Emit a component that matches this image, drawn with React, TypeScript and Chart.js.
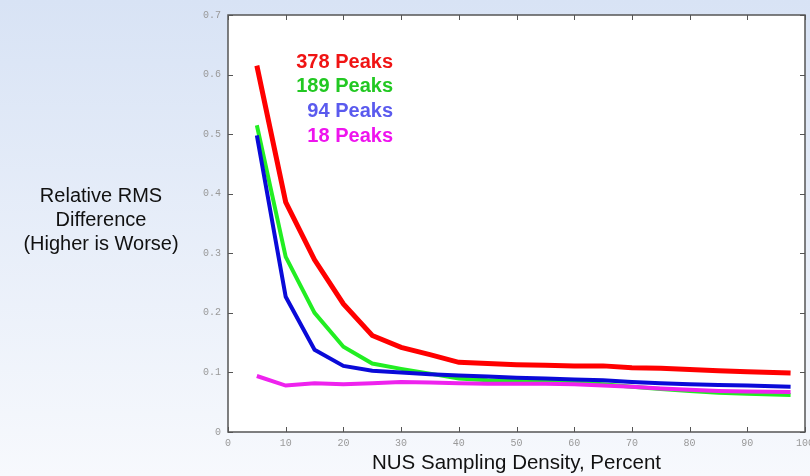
import React, { useEffect, useRef } from "react";
import { Chart, registerables } from "chart.js";

Chart.register(...registerables);

const xValues = [5, 10, 15, 20, 25, 30, 35, 40, 45, 50, 55, 60, 65, 70, 75, 80, 85, 90, 97.5];
const peaks378 = [0.615, 0.386, 0.289, 0.215, 0.162, 0.142, 0.13, 0.117, 0.115, 0.113, 0.112, 0.111, 0.111, 0.108, 0.107, 0.105, 0.103, 0.101, 0.099];
const peaks189 = [0.515, 0.294, 0.2, 0.143, 0.115, 0.106, 0.098, 0.09, 0.087, 0.086, 0.086, 0.083, 0.08, 0.076, 0.072, 0.069, 0.066, 0.064, 0.062];
const peaks94 = [0.498, 0.227, 0.138, 0.111, 0.103, 0.1, 0.097, 0.095, 0.093, 0.091, 0.09, 0.088, 0.087, 0.084, 0.082, 0.08, 0.079, 0.078, 0.076];
const peaks18 = [0.094, 0.078, 0.082, 0.08, 0.082, 0.084, 0.083, 0.082, 0.081, 0.081, 0.081, 0.08, 0.078, 0.076, 0.073, 0.071, 0.069, 0.068, 0.067];

const legendLabels = ["378 Peaks", "189 Peaks", "94 Peaks", "18 Peaks"];
const legendColors = ["#f01414", "#22c822", "#5a5aee", "#ee14ee"];
const yTitleLines = ["Relative RMS", "Difference", "(Higher is Worse)"];
const xTitle = "NUS Sampling Density, Percent";

const toPoints = (ys: number[]) => ys.map((y, i) => ({ x: xValues[i], y }));

const decorPlugin = {
  id: "decor",
  beforeDraw(chart: any) {
    const { ctx, width, height, chartArea } = chart;
    ctx.save();
    const g = ctx.createLinearGradient(0, 0, 0, height);
    g.addColorStop(0, "#d8e3f5");
    g.addColorStop(1, "#f7f9fd");
    ctx.fillStyle = g;
    ctx.fillRect(0, 0, width, height);
    ctx.fillStyle = "#ffffff";
    ctx.fillRect(chartArea.left, chartArea.top, chartArea.right - chartArea.left, chartArea.bottom - chartArea.top);
    ctx.restore();
  },
  beforeDatasetsDraw(chart: any) {
    const { ctx, chartArea } = chart;
    const { left, right, top, bottom } = chartArea;
    const xs = chart.scales.x;
    const ys = chart.scales.y;
    ctx.save();
    ctx.strokeStyle = "#555555";
    ctx.lineWidth = 1.5;
    ctx.strokeRect(left, top, right - left, bottom - top);
    ctx.lineWidth = 1;
    ctx.beginPath();
    xs.ticks.forEach((t: any) => {
      const px = Math.round(xs.getPixelForValue(t.value)) + 0.5;
      ctx.moveTo(px, bottom);
      ctx.lineTo(px, bottom - 5);
      ctx.moveTo(px, top);
      ctx.lineTo(px, top + 5);
    });
    ys.ticks.forEach((t: any) => {
      const py = Math.round(ys.getPixelForValue(t.value)) + 0.5;
      ctx.moveTo(left, py);
      ctx.lineTo(left + 5, py);
      ctx.moveTo(right, py);
      ctx.lineTo(right - 5, py);
    });
    ctx.stroke();
    ctx.restore();
  },
  afterDraw(chart: any) {
    const { ctx } = chart;
    ctx.save();
    ctx.font = "bold 20px 'Liberation Sans', Arial, sans-serif";
    ctx.textAlign = "right";
    ctx.textBaseline = "alphabetic";
    const baselines = [68, 92, 117, 142];
    legendLabels.forEach((l, i) => {
      ctx.fillStyle = legendColors[i];
      ctx.fillText(l, 393, baselines[i]);
    });
    ctx.font = "20px 'Liberation Sans', Arial, sans-serif";
    ctx.textAlign = "center";
    ctx.fillStyle = "#111111";
    const yb = [202, 226, 250];
    yTitleLines.forEach((l, i) => ctx.fillText(l, 101, yb[i]));
    ctx.restore();
  },
};

export default function App() {
  const ref = useRef<HTMLCanvasElement | null>(null);
  useEffect(() => {
    if (!ref.current) return;
    const chart = new Chart(ref.current, {
      type: "line",
      data: {
        datasets: [
          { label: "18 Peaks", data: toPoints(peaks18), borderColor: "#ee22ee", borderWidth: 4 },
          { label: "94 Peaks", data: toPoints(peaks94), borderColor: "#0a0ad8", borderWidth: 4 },
          { label: "189 Peaks", data: toPoints(peaks189), borderColor: "#22ee22", borderWidth: 4 },
          { label: "378 Peaks", data: toPoints(peaks378), borderColor: "#ff0000", borderWidth: 5 },
        ].map((d) => ({ ...d, pointRadius: 0, tension: 0, fill: false })),
      },
      options: {
        animation: false,
        responsive: false,
        devicePixelRatio: 1,
        layout: { padding: { left: 0, right: 5, top: 15, bottom: 0 } },
        plugins: { legend: { display: false }, tooltip: { enabled: false } },
        scales: {
          x: {
            type: "linear",
            min: 0,
            max: 100,
            ticks: {
              stepSize: 10,
              autoSkip: false,
              maxRotation: 0,
              padding: 5,
              color: "#999999",
              font: { family: "'Liberation Mono', 'DejaVu Sans Mono', monospace", size: 10 },
            },
            grid: { display: false, drawTicks: false },
            border: { display: false },
            title: {
              display: true,
              text: xTitle,
              color: "#111111",
              font: { family: "'Liberation Sans', Arial, sans-serif", size: 20.5 },
              padding: { top: 0, bottom: 0 },
            },
            afterFit(s: any) {
              s.height = 44;
              s.paddingLeft = 0;
              s.paddingRight = 0;
            },
          },
          y: {
            type: "linear",
            min: 0,
            max: 0.7,
            ticks: {
              stepSize: 0.1,
              padding: 7,
              color: "#999999",
              font: { family: "'Liberation Mono', 'DejaVu Sans Mono', monospace", size: 10 },
              callback: (v: any) => (Math.abs(v) < 1e-9 ? "0" : Number(v).toFixed(1)),
            },
            grid: { display: false, drawTicks: false },
            border: { display: false },
            afterFit(s: any) {
              s.width = 228;
              s.paddingTop = 0;
              s.paddingBottom = 0;
            },
          },
        },
      },
      plugins: [decorPlugin],
    } as any);
    return () => chart.destroy();
  }, []);
  return (
    <div style={{ position: "fixed", left: 0, top: 0, width: 810, height: 476 }}>
      <canvas ref={ref} width={810} height={476} style={{ display: "block", width: 810, height: 476 }} />
    </div>
  );
}
